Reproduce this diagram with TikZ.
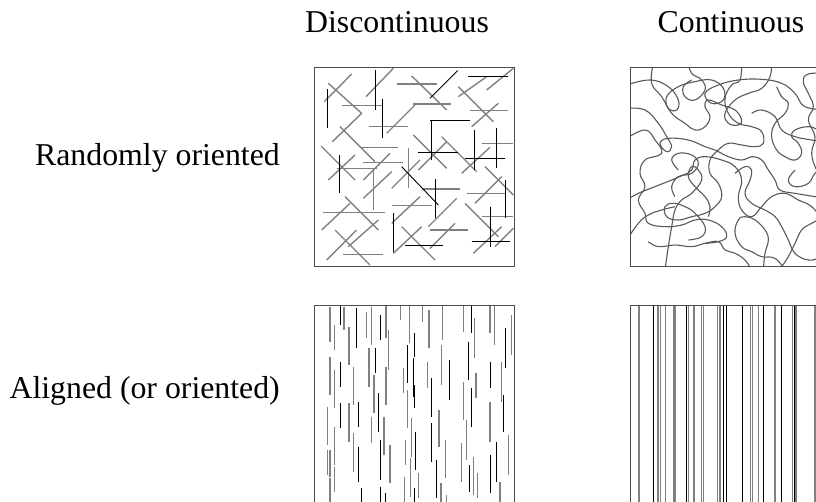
\documentclass[tikz,border=0pt]{standalone}
\usepackage{fontspec}
\setmainfont{Liberation Serif}
\begin{document}
\begin{tikzpicture}[x=1pt,y=-1pt,
  lbl/.style={font=\fontsize{31.8}{36}\selectfont, inner sep=0pt},
  frame/.style={draw=black!70, line width=1pt},
  gs/.style={draw=black!50, line width=1.4pt},
  bs/.style={draw=black, line width=0.9pt},
  fib/.style={draw=black!65, line width=1.1pt},
  gv/.style={draw=black!50, line width=1.2pt},
  bv/.style={draw=black, line width=0.8pt}]
\useasboundingbox (0,0) rectangle (816,501);
\clip (0,0) rectangle (816,501);

% labels
\node[lbl, anchor=base] (disc) at (397,32) {Discontinuous};
\node[lbl, anchor=base] (cont) at (731,32) {Continuous};
\node[lbl, anchor=base east] (rand) at (280,165) {Randomly oriented};
\node[lbl, anchor=base east] (alig) at (280,398) {Aligned (or oriented)};

% ---------- top-left: random short fibres ----------
\begin{scope}[shift={(295,60)}, x=0.33333pt, y=-0.33333pt]
\foreach \a/\b/\c/\d in {
 88/125/170/42, 100/70/200/160, 213/110/295/25, 140/137/260/137,
 222/200/340/200, 112/245/200/160, 135/200/240/305, 305/72/425/72,
 350/48/455/150, 355/132/468/132, 275/220/360/135, 490/110/575/50,
 490/80/595/185, 525/152/640/152, 530/200/610/130, 355/225/455/325,
 370/330/455/245, 500/340/585/262, 440/230/545/335, 195/263/310/263,
 205/307/325/307, 78/258/180/360, 100/360/180/285, 125/325/245/325,
 205/360/285/280, 340/265/340/385, 290/385/375/300, 236/330/236/450,
 205/415/290/335, 380/387/495/387, 400/500/485/415, 290/437/410/437,
 290/490/375/410, 515/400/630/400, 540/430/620/350, 510/430/610/530,
 535/580/620/500, 85/458/200/458, 155/458/270/458, 80/510/165/430,
 150/410/250/510, 160/560/250/480, 120/510/225/615, 95/600/185/510,
 145/583/265/583, 295/580/380/500, 320/500/420/600, 405/565/480/490,
 405/510/520/510, 600/560/655/505, 560/250/655/250, 570/320/655/405,
 575/90/655/25, 560/470/655/470}
 \draw[gs] (\a,\b) -- (\c,\d);
\foreach \a/\b/\c/\d in {
 98/88/98/205, 240/30/240/150, 262/118/262/235, 405/115/488/32,
 520/48/640/48, 405/180/525/180, 408/180/408/300, 370/277/490/277,
 537/210/537/330, 510/295/630/295, 133/285/133/400, 320/320/430/435,
 420/357/420/475, 585/440/585/560, 530/543/645/543, 296/458/296/575,
 330/555/445/555, 605/205/605/325, 630/360/630/475}
 \draw[bs] (\a,\b) -- (\c,\d);
\end{scope}
\draw[frame] (314,67) rectangle (514,266);

% ---------- top-right: continuous tangled fibres ----------
\begin{scope}[shift={(595,60)}, x=0.33333pt, y=-0.33333pt]
\begin{scope}
\clip (105,22) rectangle (705,618);
\draw[fib] plot[smooth, tension=0.7] coordinates {(95,75) (165,60) (220,80) (250,120) (245,150) (220,145) (215,110) (250,80) (300,65) (350,60) (385,85) (385,120) (350,130) (330,100) (370,75) (430,60) (500,58) (560,70) (600,100) (630,140) (700,150)};
\draw[fib] plot[smooth, tension=0.7] coordinates {(95,145) (150,150) (190,190) (215,230) (230,260) (215,275) (195,250) (220,235) (280,240) (330,260) (360,270) (400,290) (440,300) (470,290) (500,300) (520,330) (540,360) (555,390) (600,400) (660,410) (710,420)};
\draw[fib] plot[smooth, tension=0.7] coordinates {(175,10) (170,70) (200,110) (230,160) (270,190) (300,210) (330,200) (345,170) (330,140) (340,120) (380,135) (420,150) (440,180) (430,195) (400,190) (390,160) (420,120) (460,100) (500,85) (525,50) (530,10)};
\draw[fib] plot[smooth, tension=0.7] coordinates {(440,10) (435,60) (410,75) (390,115) (400,160) (430,190) (470,200) (500,215) (505,250) (480,260) (440,255) (400,250) (370,270) (345,300) (345,340) (370,370) (380,410) (360,440) (330,460) (290,470) (250,480) (215,470) (210,440) (235,430) (270,440) (300,460) (330,500) (320,530) (280,540)};
\draw[fib] plot[smooth, tension=0.7] coordinates {(95,235) (150,210) (180,240) (200,280) (150,300) (135,340) (150,380) (130,420) (150,460) (160,490) (210,500) (260,495) (300,480) (340,480) (380,500) (395,530) (370,545) (330,550)};
\draw[fib] plot[smooth, tension=0.7] coordinates {(160,545) (190,560) (240,555) (290,560) (330,550) (370,545) (390,570) (420,580) (450,600) (470,630)};
\draw[fib] plot[smooth, tension=0.7] coordinates {(95,540) (130,490) (160,465) (200,450) (240,440)};
\draw[fib] plot[smooth, tension=0.7] coordinates {(420,340) (450,320) (470,330) (465,360) (450,400) (470,430) (510,450) (540,470) (560,500) (580,540) (600,580) (640,600) (675,590) (700,560)};
\draw[fib] plot[smooth, tension=0.7] coordinates {(545,80) (560,110) (580,130) (570,160) (540,190) (530,230) (545,270) (570,290) (600,300) (620,280) (610,250) (590,230) (600,210) (640,200) (670,210) (710,230)};
\draw[fib] plot[smooth, tension=0.7] coordinates {(700,40) (640,42) (625,65) (640,100) (655,140) (640,180) (660,230) (650,280) (665,330) (690,360) (710,360)};
\draw[fib] plot[smooth, tension=0.7] coordinates {(210,630) (220,560) (230,500) (240,450) (260,420) (290,400) (320,360) (310,330) (290,320) (280,350) (300,380) (330,410) (345,440) (340,470)};
\draw[fib] plot[smooth, tension=0.7] coordinates {(505,630) (510,580) (520,540) (510,510) (480,480) (450,470) (430,480) (420,520) (440,560) (470,575) (500,590) (540,595) (570,630)};
\draw[fib] plot[smooth, tension=0.7] coordinates {(95,420) (130,400) (180,380) (230,360) (265,345) (290,330) (300,300) (330,290) (380,300) (420,320) (440,360) (430,410) (440,450) (470,470) (500,440) (530,410) (570,400) (610,420) (650,440) (680,480) (700,530)};
\draw[fib] plot[smooth, tension=0.7] coordinates {(560,620) (580,590) (600,550) (620,510) (650,490) (690,470) (710,470)};
\draw[fib] plot[smooth, tension=0.7] coordinates {(470,160) (500,150) (540,170) (560,210) (600,230) (650,240) (710,250)};
\draw[fib] plot[smooth, tension=0.7] coordinates {(280,10) (290,40) (320,60) (330,90) (300,120) (270,110) (265,80) (290,60)};
\draw[fib] plot[smooth, tension=0.7] coordinates {(250,330) (230,300) (250,280) (290,285) (310,310) (290,340) (250,350) (230,380) (240,410)};
\draw[fib] plot[smooth, tension=0.7] coordinates {(600,330) (580,360) (600,380) (640,370) (660,340) (690,320) (710,310)};
\end{scope}
\end{scope}
\draw[frame] (630,67) rectangle (830,266);

% ---------- bottom-left: aligned short fibres ----------
\begin{scope}[shift={(295,295)}, x=0.33333pt, y=-0.33333pt]
\foreach \x/\ya/\yb in {
 105/35/140, 105/185/300, 105/465/545, 105/550/620, 118/90/165, 118/225/340,
 118/395/510, 118/515/590, 147/35/105, 162/95/210, 162/325/440, 175/215/330,
 175/415/530, 98/335/450, 98/465/540, 215/50/130, 222/160/275, 230/35/150,
 230/365/445, 237/240/355, 267/365/480, 273/30/130, 273/215/330, 280/105/225,
 285/450/565, 316/30/75, 325/220/295, 328/545/620, 332/435/510, 337/285/400,
 343/30/145, 347/490/605, 350/370/485, 370/535/610, 383/30/80, 397/200/280,
 402/45/160, 432/345/455, 438/565/620, 440/150/270, 443/30/135, 452/435/550,
 455/600/620, 500/445/560, 505/30/110, 505/260/375, 515/375/495, 535/485/600,
 538/70/190, 543/235/310, 548/535/610, 585/30/115, 585/320/440, 598/30/150,
 620/200/320, 640/420/540, 615/560/620, 650/60/180}
 \draw[gv] (\x,\ya) -- (\x,\yb);
\foreach \x/\ya/\yb in {
 135/30/90, 135/200/275, 135/325/400, 183/40/160, 190/320/395, 190/455/560,
 242/160/235, 250/295/410, 255/60/135, 255/435/555, 255/575/620, 200/580/620,
 270/595/620, 337/150/265, 355/190/305, 358/115/185, 358/270/340, 358/580/620,
 362/410/525, 410/250/365, 410/385/500, 425/495/610, 463/195/315, 520/140/255,
 522/510/590, 528/30/115, 528/280/395, 585/200/280, 585/480/595, 603/440/560,
 630/100/220, 625/300/410}
 \draw[bv] (\x,\ya) -- (\x,\yb);
\end{scope}
\draw[frame] (314,305) rectangle (514,520);

% ---------- bottom-right: aligned continuous fibres ----------
\foreach \x in {639, 658, 660.7, 665.7, 673.3, 675, 688.3, 694, 701.7, 703.7,
  717.3, 720, 750.7, 752.3, 758.3, 775, 792.3, 796, 815}
  \draw[gv] (\x,305) -- (\x,520);
\foreach \x in {653.3, 686.7, 723.3, 726, 742.7, 763.3, 781, 794.3}
  \draw[bv] (\x,305) -- (\x,520);
\draw[frame] (630,305) rectangle (830,520);
\end{tikzpicture}
\end{document}
